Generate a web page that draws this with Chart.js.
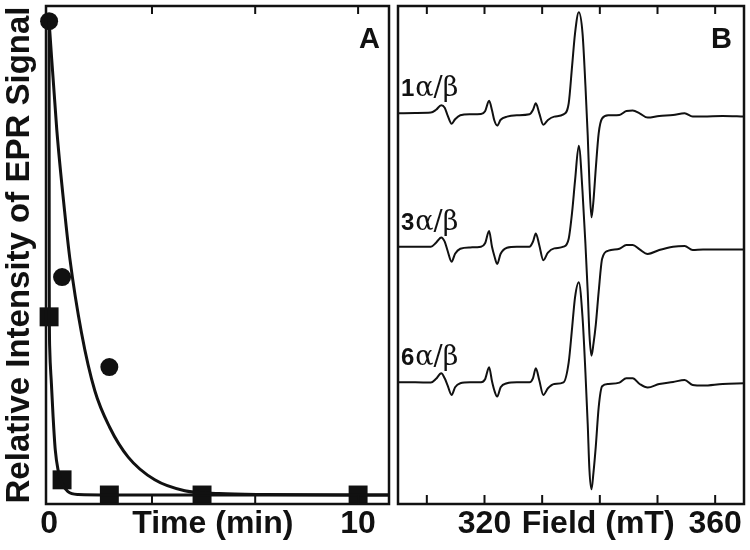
<!DOCTYPE html>
<html>
<head>
<meta charset="utf-8">
<script src="https://cdn.jsdelivr.net/npm/chart.js@4/dist/chart.umd.min.js"></script>
<style>
    body { margin: 0; background: #fff; }
    #wrap { position: relative; width: 750px; height: 550px; }
    canvas { position: absolute; top: 0; }
    #panelA { left: 0; }
    #panelB { left: 392px; }
</style>
</head>
<body>
<div id="wrap">
    <canvas id="panelA" width="392" height="550"></canvas>
    <canvas id="panelB" width="358" height="550"></canvas>
</div>
<script>
"use strict";

// Panel A : decay of the EPR signal (time in min)
var circleTimes = [0, 0.42, 1.95];
var circleValues = [1.0, 0.46, 0.27];
var squareTimes = [0, 0.42, 1.95, 4.95, 10];
var squareValues = [0.376, 0.032, 0, 0, 0];

// fitted curves
var circleFitTimes = [0, 0.25, 0.5, 0.67, 1.05, 1.48, 1.96, 2.56, 3.42, 4.39, 5.5, 7, 11];
var circleFitValues = [1.0, 0.77, 0.6, 0.5, 0.342, 0.22, 0.143, 0.08, 0.032, 0.009, 0.003, 0.001, 0];
var squareFitTimes = [0, 0.005, 0.02, 0.075, 0.13, 0.2, 0.29, 0.42, 0.61, 0.94, 2, 11];
var squareFitValues = [1.0, 0.45, 0.31, 0.235, 0.165, 0.095, 0.053, 0.025, 0.007, 0.001, 0, 0];

var timeTicks = [3.33, 6.67, 10];
var timeLabelAt = [0, 5.3, 10];
var timeLabels = ["0", "Time (min)", "10"];

// Panel B : EPR spectra (field in mT)
var fieldPoints = [305.0, 308.0, 310.7, 311.6, 312.5, 313.1, 313.6, 314.3, 314.9, 315.8,
    317.5, 319.4, 320.1, 320.8, 321.3, 321.7, 322.2, 322.8, 323.9, 325.6,
    327.8, 328.4, 328.9, 329.5, 330.2, 331.0, 332.1, 333.7, 334.6, 335.2,
    335.7, 336.35, 337.0, 337.5, 337.9, 338.2, 338.55, 338.9, 339.3, 339.8,
    340.4, 341.5, 343.4, 344.6, 345.7, 346.9, 348.3, 350.3, 352.7, 354.7,
    356.1, 357.9, 361.3, 365.0];
var spectrum1 = [0, 0.003, 0.007, 0.035, 0.08, 0.055, -0.02, -0.105, -0.06, -0.02,
    -0.01, -0.007, 0.02, 0.125, 0.03, -0.07, -0.123, -0.065, -0.033, -0.02,
    -0.01, 0.033, 0.1, 0, -0.115, -0.067, -0.033, -0.01, 0.1, 0.48,
    0.8, 1.01, 0.8, 0.28, -0.22, -0.7, -1.04, -0.87, -0.55, -0.2,
    -0.05, -0.02, -0.017, 0.023, 0.027, 0, -0.043, -0.027, -0.017, 0,
    -0.033, -0.033, -0.027, -0.033];
var spectrum3 = [0, 0, 0, 0.04, 0.093, 0.05, -0.04, -0.15, -0.07, -0.02,
    -0.007, 0, 0.035, 0.157, 0, -0.09, -0.173, -0.07, -0.01, 0,
    0, 0.05, 0.133, 0.015, -0.135, -0.06, -0.017, 0, 0.08, 0.35,
    0.66, 1.01, 0.55, 0.03, -0.45, -0.88, -1.09, -0.97, -0.78, -0.45,
    -0.12, -0.04, -0.02, 0.017, 0.017, -0.027, -0.073, -0.033, 0, 0.007,
    -0.033, -0.027, -0.027, -0.027];
var spectrum6 = [0, 0, -0.003, 0.035, 0.09, 0.04, -0.03, -0.127, -0.05, -0.01,
    0, 0, 0.03, 0.15, 0.01, -0.08, -0.143, -0.05, -0.01, 0,
    0, 0.04, 0.14, 0.02, -0.127, -0.06, -0.017, 0, 0.2, 0.55,
    0.85, 1.0, 0.65, 0.1, -0.42, -0.88, -1.07, -0.9, -0.64, -0.25,
    -0.04, -0.017, -0.003, 0.04, 0.04, -0.017, -0.053, -0.017, 0.003, 0.023,
    -0.027, -0.033, -0.017, -0.01];
var traceNames = ["1", "3", "6"];
var traceOffsets = [3.907, 2.573, 1.217];

var fieldTicks = [310, 320, 330, 340, 350, 360];
var fieldLabelAt = [320, 339.7, 360];
var fieldLabels = ["320", "Field (mT)", "360"];

var INK = "#111";
var SANS = "'Liberation Sans', Arial, Helvetica, sans-serif";

function toPoints(xs, ys, offset) {
    return xs.map(function(x, i) {
        return { x: x, y: ys[i] + (offset || 0) };
    });
}

// keep the plot box where the picture has it
function noScalePadding(scale) {
    scale.paddingLeft = 0;
    scale.paddingRight = 0;
    scale.paddingTop = 0;
    scale.paddingBottom = 0;
}

// box round the plot, inward ticks on top and bottom, panel letter
var framePlugin = {
    id: "frame",
    afterDraw: function(chart, args, opts) {
        var ctx = chart.ctx;
        var area = chart.chartArea;
        var xs = chart.scales.x;
        ctx.save();
        ctx.strokeStyle = INK;
        ctx.lineWidth = 2.5;
        ctx.strokeRect(area.left, area.top, area.right - area.left, area.bottom - area.top);
        ctx.lineWidth = 2;
        opts.ticks.forEach(function(v) {
            var px = xs.getPixelForValue(v);
            ctx.beginPath();
            ctx.moveTo(px, area.top);
            ctx.lineTo(px, area.top + 8);
            ctx.moveTo(px, area.bottom);
            ctx.lineTo(px, area.bottom - 9);
            ctx.stroke();
        });
        ctx.fillStyle = INK;
        ctx.font = "bold 29px " + SANS;
        ctx.textAlign = "right";
        ctx.textBaseline = "alphabetic";
        ctx.fillText(opts.letter, area.right - opts.letterInset, area.top + 42);
        ctx.restore();
    }
};

// "1α/β" style names above each spectrum
var traceLabelPlugin = {
    id: "traceLabels",
    afterDatasetsDraw: function(chart) {
        var ctx = chart.ctx;
        var area = chart.chartArea;
        var ys = chart.scales.y;
        ctx.save();
        ctx.fillStyle = INK;
        ctx.textBaseline = "alphabetic";
        ctx.textAlign = "left";
        traceNames.forEach(function(name, i) {
            var x = area.left + 3;
            var y = ys.getPixelForValue(traceOffsets[i]) - 17;
            ctx.font = "bold 24px " + SANS;
            ctx.fillText(name, x, y);
            x += ctx.measureText(name).width + 1;
            ctx.font = "27px 'DejaVu Serif', 'Liberation Serif', serif";
            ctx.fillText("\u03b1/\u03b2", x, y);
        });
        ctx.restore();
    }
};

function labelAxis(min, max, labelAt, labels) {
    return {
        type: "linear",
        min: min,
        max: max,
        grid: { display: false, drawTicks: false },
        border: { display: false },
        afterBuildTicks: function(scale) {
            scale.ticks = labelAt.map(function(v) { return { value: v }; });
        },
        afterFit: function(scale) {
            scale.height = 46;
            noScalePadding(scale);
        },
        ticks: {
            autoSkip: false,
            maxRotation: 0,
            padding: 1,
            color: INK,
            font: { family: SANS, size: 32, weight: "bold" },
            callback: function(value, index) {
                return labels[index];
            }
        }
    };
}

// Panel A
new Chart(document.getElementById("panelA"), {
    type: "line",
    data: {
        datasets: [{
            data: toPoints(circleFitTimes, circleFitValues),
            borderColor: INK,
            borderWidth: 3,
            pointRadius: 0,
            cubicInterpolationMode: "monotone"
        }, {
            data: toPoints(squareFitTimes, squareFitValues),
            borderColor: INK,
            borderWidth: 3,
            pointRadius: 0,
            cubicInterpolationMode: "monotone"
        }, {
            data: toPoints(circleTimes, circleValues),
            showLine: false,
            pointStyle: "circle",
            pointRadius: 9,
            pointBackgroundColor: INK,
            pointBorderWidth: 0,
            clip: false
        }, {
            data: toPoints(squareTimes, squareValues),
            showLine: false,
            pointStyle: "rect",
            pointRadius: 13.4,
            pointBackgroundColor: INK,
            pointBorderWidth: 0,
            clip: false
        }]
    },
    options: {
        responsive: false,
        animation: false,
        events: [],
        layout: { autoPadding: false, padding: { top: 6, right: 3, left: 0, bottom: 0 } },
        plugins: {
            legend: { display: false },
            tooltip: { enabled: false },
            frame: { ticks: timeTicks, letter: "A", letterInset: 9 }
        },
        scales: {
            x: labelAxis(-0.1, 11, timeLabelAt, timeLabels),
            y: {
                min: -0.019,
                max: 1.032,
                grid: { display: false, drawTicks: false },
                border: { display: false },
                ticks: { display: false },
                title: {
                    display: true,
                    text: "Relative Intensity of EPR Signal",
                    color: INK,
                    padding: 0,
                    font: { family: SANS, size: 33, weight: "bold", lineHeight: 1.2 }
                },
                afterFit: function(scale) {
                    scale.width = 46;
                    noScalePadding(scale);
                }
            }
        }
    },
    plugins: [framePlugin]
});

// Panel B
var spectra = [spectrum1, spectrum3, spectrum6];

new Chart(document.getElementById("panelB"), {
    type: "line",
    data: {
        datasets: spectra.map(function(s, i) {
            return {
                data: toPoints(fieldPoints, s, traceOffsets[i]),
                borderColor: INK,
                borderWidth: 2,
                pointRadius: 0,
                cubicInterpolationMode: "monotone"
            };
        })
    },
    options: {
        responsive: false,
        animation: false,
        events: [],
        layout: { autoPadding: false, padding: { top: 6, right: 6, left: 6, bottom: 0 } },
        plugins: {
            legend: { display: false },
            tooltip: { enabled: false },
            frame: { ticks: fieldTicks, letter: "B", letterInset: 12 }
        },
        scales: {
            x: labelAxis(305, 365, fieldLabelAt, fieldLabels),
            y: { display: false, min: 0, max: 4.98 }
        }
    },
    plugins: [framePlugin, traceLabelPlugin]
});
</script>
</body>
</html>
